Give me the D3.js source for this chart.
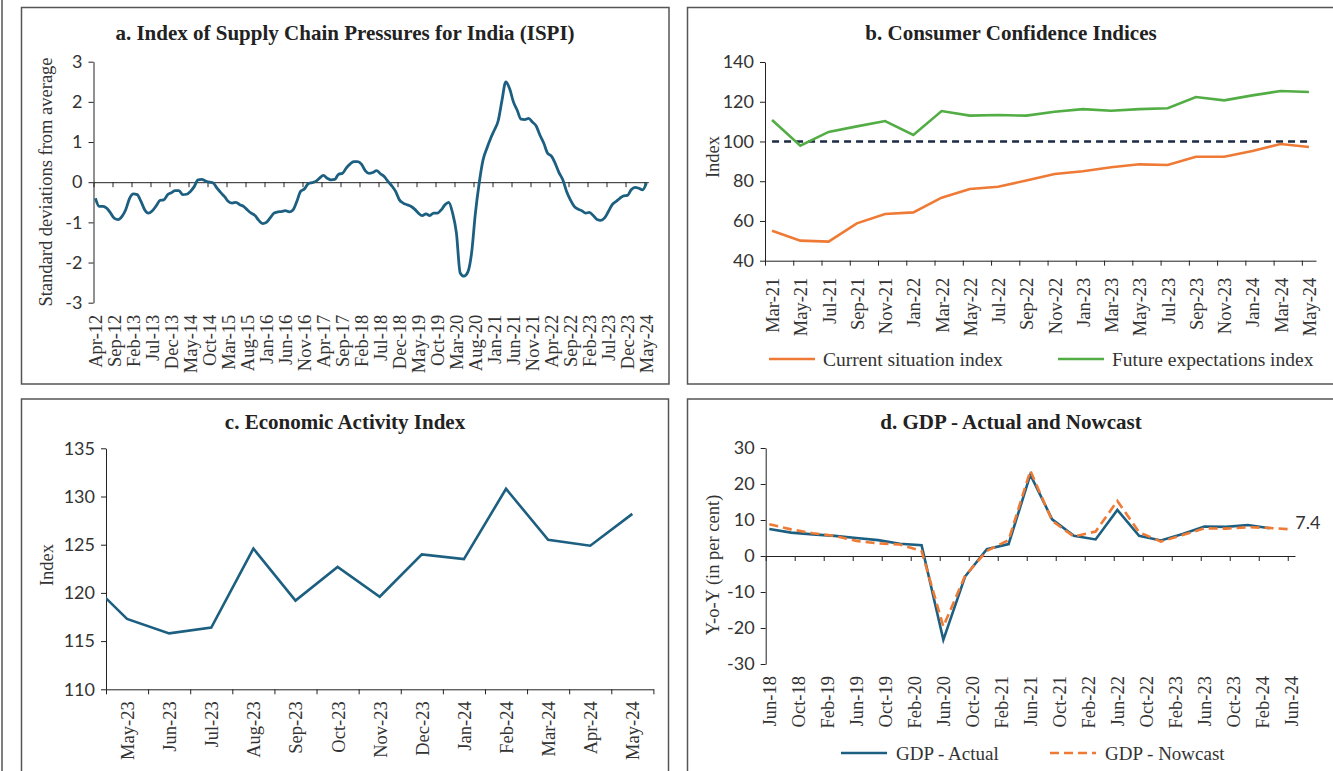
<!DOCTYPE html>
<html>
<head>
<meta charset="utf-8">
<script src="https://cdn.jsdelivr.net/npm/d3@7"></script>
<style>
  body { margin: 0; background: #fff; }
  svg { display: block; }
</style>
</head>
<body>
<script>
// ---- data ----
// a. ISPI, monthly Apr-12 .. May-24
const ispiStart = new Date(2012, 3, 1)
const ispiValues = [
  -0.40, -0.60, -0.60, -0.65, -0.77, -0.90, -0.93, -0.85, -0.68, -0.40,
  -0.29, -0.31, -0.48, -0.69, -0.77, -0.71, -0.59, -0.45, -0.44, -0.31,
  -0.26, -0.21, -0.21, -0.31, -0.30, -0.23, -0.11, 0.06, 0.07, 0.03,
  0.00, -0.02, -0.15, -0.26, -0.36, -0.48, -0.52, -0.50, -0.56, -0.60,
  -0.69, -0.77, -0.83, -0.95, -1.03, -1.00, -0.89, -0.77, -0.74, -0.73,
  -0.71, -0.74, -0.69, -0.48, -0.23, -0.17, -0.04, -0.01, 0.02, 0.10,
  0.17, 0.10, 0.06, 0.07, 0.20, 0.22, 0.35, 0.45, 0.51, 0.51,
  0.45, 0.29, 0.22, 0.24, 0.29, 0.21, 0.14, 0.02, -0.09, -0.23,
  -0.44, -0.52, -0.56, -0.60, -0.67, -0.77, -0.83, -0.79, -0.83, -0.77,
  -0.77, -0.69, -0.56, -0.50, -0.77, -1.26, -2.26, -2.34, -2.24, -1.76,
  -0.77, -0.02, 0.55, 0.84, 1.09, 1.30, 1.53, 2.04, 2.50, 2.33,
  2.00, 1.79, 1.57, 1.56, 1.59, 1.50, 1.40, 1.17, 0.97, 0.72,
  0.65, 0.47, 0.24, 0.06, -0.23, -0.44, -0.60, -0.67, -0.71, -0.77,
  -0.75, -0.83, -0.93, -0.95, -0.89, -0.73, -0.56, -0.48, -0.40, -0.34,
  -0.33, -0.19, -0.13, -0.15, -0.19, -0.02
]
const ispiTicks = [-3, -2, -1, 0, 1, 2, 3]

// b. Consumer confidence, bi-monthly survey rounds
const ccRounds = ["Mar-21", "May-21", "Jul-21", "Sep-21", "Nov-21", "Jan-22", "Mar-22", "May-22", "Jul-22", "Sep-22",
  "Nov-22", "Jan-23", "Mar-23", "May-23", "Jul-23", "Sep-23", "Nov-23", "Jan-24", "Mar-24", "May-24"]
const currentSituation = [55.1, 50.1, 49.6, 58.8, 63.5, 64.3, 71.7, 76.1, 77.2, 80.4,
  83.6, 85.0, 87.0, 88.5, 88.2, 92.3, 92.3, 95.2, 98.7, 97.2]
const futureExpectations = [110.8, 97.9, 104.8, 107.6, 110.3, 103.3, 115.3, 113.0, 113.3, 113.0,
  115.0, 116.3, 115.5, 116.3, 116.7, 122.4, 120.7, 123.2, 125.4, 124.9]
const ccTicks = [40, 60, 80, 100, 120, 140]

// c. Economic activity index (Apr-23 sits left of the visible axis)
const eaiMonths = ["Apr-23", "May-23", "Jun-23", "Jul-23", "Aug-23", "Sep-23", "Oct-23",
  "Nov-23", "Dec-23", "Jan-24", "Feb-24", "Mar-24", "Apr-24", "May-24"]
const eaiValues = [121.6, 117.3, 115.8, 116.4, 124.6, 119.2, 122.7, 119.6, 124.0, 123.5, 130.8, 125.5, 124.9, 128.2]
const eaiTicks = [110, 115, 120, 125, 130, 135]

// d. GDP, quarterly Jun-18 .. Jun-24
const gdpStart = new Date(2018, 5, 1)
const gdpQuarters = ["Jun-18", "Sep-18", "Dec-18", "Mar-19", "Jun-19", "Sep-19", "Dec-19", "Mar-20",
  "Jun-20", "Sep-20", "Dec-20", "Mar-21", "Jun-21", "Sep-21", "Dec-21", "Mar-22",
  "Jun-22", "Sep-22", "Dec-22", "Mar-23", "Jun-23", "Sep-23", "Dec-23", "Mar-24", "Jun-24"]
const gdpActual = [7.5, 6.5, 6.0, 5.6, 5.0, 4.4, 3.4, 3.0, -23.3, -5.7, 1.9, 3.3,
  22.6, 10.2, 5.6, 4.6, 12.8, 5.6, 4.3, 6.1, 8.2, 8.1, 8.6, 7.7]
const gdpNowcast = [8.8, 7.4, 6.3, 5.6, 4.2, 3.5, 3.2, 1.4, -19.6, -5.5, 1.4, 4.4,
  23.7, 9.8, 5.4, 6.8, 15.3, 6.6, 4.0, 5.8, 7.7, 7.6, 8.0, 7.8, 7.4]
const gdpTicks = [-30, -20, -10, 0, 10, 20, 30]

// ---- styles ----
const BLUE = "#1c5f80"
const ORANGE = "#ee7a35"
const GREEN = "#52ad45"
const NAVY = "#1b2a45"
const SERIF = "'Liberation Serif', serif"
const SANS = "Lato, 'Open Sans', sans-serif"
const fmt = d3.timeFormat("%b-%y")

const svg = d3.select("body").append("svg")
  .attr("width", 1333)
  .attr("height", 771)

// frames
const frames = svg.append("g").attr("fill", "none").attr("stroke", "#555").attr("stroke-width", 1.5)
frames.append("line").attr("x1", 2).attr("x2", 2).attr("y1", 0).attr("y2", 771)
frames.append("rect").attr("x", 21.5).attr("y", 7.5).attr("width", 647.5).attr("height", 376.5)
frames.append("rect").attr("x", 687.5).attr("y", 7.5).attr("width", 700).attr("height", 376.5)
frames.append("rect").attr("x", 21.5).attr("y", 399).attr("width", 647).attr("height", 400)
frames.append("rect").attr("x", 687.5).attr("y", 399).attr("width", 700).attr("height", 400)

function title(text, cx, y) {
  svg.append("text")
    .attr("x", cx).attr("y", y)
    .attr("text-anchor", "middle")
    .attr("font-family", SERIF)
    .attr("font-weight", "bold")
    .attr("font-size", 21)
    .attr("fill", "#222")
    .text(text)
}

function yLabel(text, x, cy) {
  svg.append("text")
    .attr("transform", `translate(${x},${cy}) rotate(-90)`)
    .attr("text-anchor", "middle")
    .attr("dy", "0.35em")
    .attr("font-family", SERIF)
    .attr("font-size", 18.5)
    .attr("fill", "#333")
    .text(text)
}

function yAxis(x, y, ticks, left) {
  const g = svg.append("g")
    .attr("transform", `translate(${left},0)`)
    .call(d3.axisLeft(y).tickValues(ticks).tickSize(5).tickSizeOuter(0).tickPadding(6)
      .tickFormat(d => String(d)))
  g.select(".domain").attr("stroke", "#222")
  g.selectAll(".tick line").attr("stroke", "#222")
  g.selectAll("text").attr("font-family", SANS).attr("font-size", 18).attr("fill", "#333")
  return g
}

// tick marks at band boundaries, labels rotated at band centres
function monthAxis(x, yPos, marks, labels, labelY, fmtLabel) {
  const g = svg.append("g")
    .attr("transform", `translate(0,${yPos})`)
    .call(d3.axisBottom(x).tickValues(marks).tickSize(5).tickSizeOuter(0).tickFormat(""))
  g.select(".domain").attr("stroke", "#222")
  g.selectAll(".tick line").attr("stroke", "#222")

  const lg = svg.append("g")
    .attr("transform", `translate(0,${labelY})`)
    .call(d3.axisBottom(x).tickValues(labels).tickSize(0).tickFormat(fmtLabel))
  lg.select(".domain").remove()
  lg.selectAll("text")
    .attr("transform", "rotate(-90)")
    .attr("x", 0)
    .attr("y", 0)
    .attr("dy", "0.35em")
    .attr("text-anchor", "end")
    .attr("font-family", SERIF)
    .attr("font-size", 18.5)
    .attr("fill", "#333")
}

// ---- a. ISPI ----
{
  const n = ispiValues.length
  const x = d3.scaleLinear().domain([0, n]).range([93.5, 648.3])
  const y = d3.scaleLinear().domain([-3, 3]).range([302.7, 61.7])
  title("a. Index of Supply Chain Pressures for India (ISPI)", 345, 40)
  yLabel("Standard deviations from average", 46, 182)
  yAxis(x, y, ispiTicks, x(0))
  const months = d3.range(n).map(i => d3.timeMonth.offset(ispiStart, i))
  monthAxis(x, y(0), d3.range(0, n, 5), d3.range(0, n, 5).map(i => i + 0.5), y(-3) + 12,
    i => fmt(months[Math.floor(i)]))
  svg.append("path")
    .datum(ispiValues)
    .attr("fill", "none")
    .attr("stroke", BLUE)
    .attr("stroke-width", 2.8)
    .attr("stroke-linejoin", "round")
    .attr("d", d3.line().x((d, i) => x(i + 0.5)).y(d => y(d)).curve(d3.curveMonotoneX))
}

// ---- b. Consumer confidence ----
{
  const n = ccRounds.length * 2 - 1
  const x = d3.scaleLinear().domain([0, n]).range([765, 1316])
  const y = d3.scaleLinear().domain([40, 140]).range([260.7, 62])
  title("b. Consumer Confidence Indices", 1011, 40)
  yLabel("Index", 713, 157)
  yAxis(x, y, ccTicks, x(0))
  monthAxis(x, y(40), d3.range(0, n, 2), ccRounds.map((d, i) => 2 * i + 0.5), y(40) + 17,
    v => ccRounds[Math.floor(v / 2)])
  const line = d3.line().x((d, i) => x(2 * i + 0.5)).y(d => y(d))
  svg.append("path")
    .datum([100, 100])
    .attr("fill", "none")
    .attr("stroke", NAVY)
    .attr("stroke-width", 2.6)
    .attr("stroke-dasharray", "7,5")
    .attr("d", d3.line().x((d, i) => x(i * (n - 1) + 0.5)).y(d => y(d)))
  svg.append("path").datum(futureExpectations)
    .attr("fill", "none").attr("stroke", GREEN).attr("stroke-width", 2.6).attr("d", line)
  svg.append("path").datum(currentSituation)
    .attr("fill", "none").attr("stroke", ORANGE).attr("stroke-width", 2.6).attr("d", line)

  const legend = [
    { name: "Current situation index", color: ORANGE, x: 769 },
    { name: "Future expectations index", color: GREEN, x: 1058 }
  ]
  const lg = svg.append("g").selectAll("g").data(legend).join("g")
    .attr("transform", d => `translate(${d.x},359)`)
  lg.append("line").attr("x2", 46).attr("stroke", d => d.color).attr("stroke-width", 2.6)
  lg.append("text").attr("x", 54).attr("dy", "0.35em")
    .attr("font-family", SERIF).attr("font-size", 19.5).attr("fill", "#333")
    .text(d => d.name)
}

// ---- c. Economic activity index ----
{
  const n = eaiMonths.length - 1
  const x = d3.scaleLinear().domain([0, n]).range([106, 653.4])
  const y = d3.scaleLinear().domain([110, 135]).range([689.3, 448.3])
  title("c. Economic Activity Index", 345, 429)
  yLabel("Index", 47, 565)
  yAxis(x, y, eaiTicks, x(0))
  monthAxis(x, y(110), d3.range(0, n + 1), d3.range(n).map(i => i + 0.5), y(110) + 12,
    v => eaiMonths[Math.floor(v) + 1])
  svg.append("clipPath").attr("id", "clip-c")
    .append("rect").attr("x", x(0)).attr("y", 440).attr("width", x(n) - x(0)).attr("height", 260)
  svg.append("path")
    .datum(eaiValues)
    .attr("clip-path", "url(#clip-c)")
    .attr("fill", "none")
    .attr("stroke", BLUE)
    .attr("stroke-width", 2.6)
    .attr("d", d3.line().x((d, i) => x(i - 0.5)).y(d => y(d)))
}

// ---- d. GDP actual and nowcast ----
{
  const n = (gdpQuarters.length - 1) * 3 + 1
  const x = d3.scaleLinear().domain([0, n]).range([765.7, 1295])
  const y = d3.scaleLinear().domain([-30, 30]).range([664, 448])
  title("d. GDP - Actual and Nowcast", 1011, 429)
  yLabel("Y-o-Y (in per cent)", 713, 565)
  yAxis(x, y, gdpTicks, x(0))
  monthAxis(x, y(0), d3.range(0, n, 4), d3.range(0, n, 4).map(i => i + 0.5), y(-30) + 12,
    v => fmt(d3.timeMonth.offset(gdpStart, Math.floor(v))))
  const line = d3.line().x((d, i) => x(3 * i + 0.5)).y(d => y(d))
  svg.append("path").datum(gdpActual)
    .attr("fill", "none").attr("stroke", BLUE).attr("stroke-width", 2.6).attr("d", line)
  svg.append("path").datum(gdpNowcast)
    .attr("fill", "none").attr("stroke", ORANGE).attr("stroke-width", 2.6)
    .attr("stroke-dasharray", "9,5").attr("d", line)
  const last = gdpNowcast.length - 1
  svg.append("text")
    .attr("x", x(3 * last + 0.5) + 4)
    .attr("y", y(gdpNowcast[last]) - 7)
    .attr("dy", "0.35em")
    .attr("font-family", SANS).attr("font-size", 18).attr("fill", "#333")
    .text(gdpNowcast[last])

  const legend = [
    { name: "GDP - Actual", color: BLUE, x: 841, dash: null },
    { name: "GDP - Nowcast", color: ORANGE, x: 1050, dash: "9,5" }
  ]
  const lg = svg.append("g").selectAll("g").data(legend).join("g")
    .attr("transform", d => `translate(${d.x},753)`)
  lg.append("line").attr("x2", 46).attr("stroke", d => d.color).attr("stroke-width", 2.6)
    .attr("stroke-dasharray", d => d.dash)
  lg.append("text").attr("x", 55).attr("dy", "0.35em")
    .attr("font-family", SERIF).attr("font-size", 19).attr("fill", "#333")
    .text(d => d.name)
}
</script>
</body>
</html>
